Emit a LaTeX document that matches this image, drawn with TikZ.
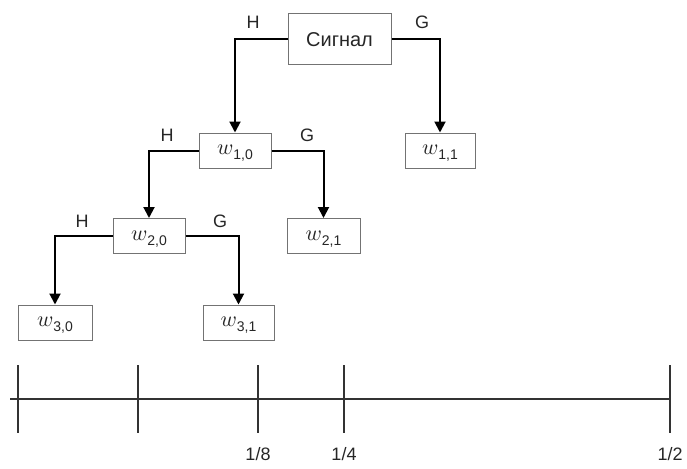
\documentclass[tikz,border=0pt]{standalone}
\usepackage{fontspec}
\setmainfont{Liberation Sans}
\usetikzlibrary{arrows.meta}
\newcommand\wlab[1]{\scalebox{2.2}{$w$}\raisebox{-5pt}{\fontsize{14}{14}\selectfont #1}}
\begin{document}
\begin{tikzpicture}[x=1pt,y=-1pt,
  box/.style={draw=black!55,line width=1pt,minimum height=35pt,inner sep=0pt,fill=white,text=black!85,text height=11pt,text depth=3pt},
  conn/.style={line width=2pt,-{Triangle[length=11pt,width=11pt]}},
  lab/.style={font=\fontsize{18}{18}\selectfont,text=black!85,inner sep=0pt},
  axlab/.style={font=\fontsize{18}{18}\selectfont,text=black!85,inner sep=0pt},
  axis/.style={line width=1.5pt,draw=black!80}]
\useasboundingbox (0,0) rectangle (687,468);
% boxes
\node[box,minimum width=103pt,minimum height=51pt,font=\fontsize{20}{20}\selectfont,text height=14pt,text depth=0pt] (sig) at (339.5,39.5) {Сигнал};
\node[box,minimum width=72pt] (w10) at (235,150.5) {\wlab{1,0}};
\node[box,minimum width=70pt] (w11) at (440,150.5) {\wlab{1,1}};
\node[box,minimum width=72pt] (w20) at (149,236) {\wlab{2,0}};
\node[box,minimum width=73pt] (w21) at (323.5,236) {\wlab{2,1}};
\node[box,minimum width=74pt] (w30) at (55,322.5) {\wlab{3,0}};
\node[box,minimum width=71pt] (w31) at (238.5,322.5) {\wlab{3,1}};
% connectors
\draw[conn] (sig.west) -| (w10.north);
\draw[conn] (sig.east) -| (w11.north);
\draw[conn] (w10.west) -| (w20.north);
\draw[conn] (w10.east) -| (w21.north);
\draw[conn] (w20.west) -| (w30.north);
\draw[conn] (w20.east) -| (w31.north);
% labels
\node[lab] (h0) at (253,22.5) {H};
\node[lab] (g0) at (422,22.5) {G};
\node[lab] (h1) at (167,135) {H};
\node[lab] (g1) at (307,135) {G};
\node[lab] (h2) at (82,221) {H};
\node[lab] (g2) at (220,221) {G};
% axis
\coordinate (a0) at (10,399);
\coordinate (a1) at (670,399);
\draw[axis] (a0) -- (a1);
\foreach \x in {18,138,258,344,670}{
  \coordinate (tt\x) at (\x,365);
  \coordinate (tb\x) at (\x,433);
  \draw[axis] (tt\x) -- (tb\x);
}
\node[axlab] (l8) at (258,454) {1/8};
\node[axlab] (l4) at (344,454) {1/4};
\node[axlab] (l2) at (670,454) {1/2};
\end{tikzpicture}
\end{document}
